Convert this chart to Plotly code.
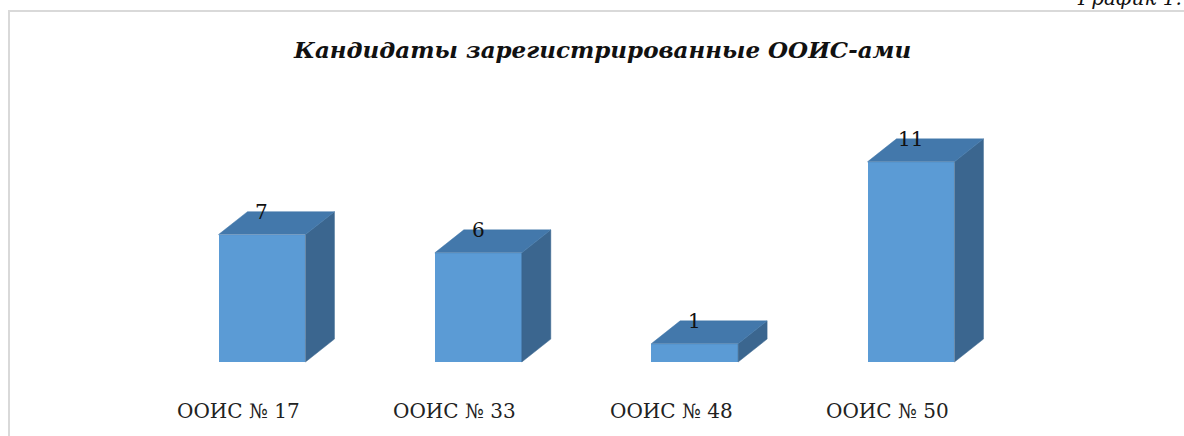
import plotly.graph_objects as go

# data
categories = ["ООИС № 17", "ООИС № 33", "ООИС № 48", "ООИС № 50"]
values = [7, 6, 1, 11]

title = "Кандидаты зарегистрированные ООИС-ами"
caption = "График 1."

# 3d look: bar width and depth offsets in axis units
half_w = 0.201
dx = 0.134
dy = 1.26

front_color = "#5B9BD5"
top_color = "#4378AB"
side_color = "#3B668F"
serif = "DejaVu Serif"

fig = go.Figure()
xs = list(range(len(values)))

for i, v in zip(xs, values):
    # right side face
    fig.add_trace(go.Scatter(
        x=[i + half_w, i + half_w + dx, i + half_w + dx, i + half_w, i + half_w],
        y=[0, dy, v + dy, v, 0],
        fill="toself", fillcolor=side_color, mode="lines",
        line=dict(color=side_color, width=0.5), hoverinfo="skip", showlegend=False))
    # top face
    fig.add_trace(go.Scatter(
        x=[i - half_w, i + half_w, i + half_w + dx, i - half_w + dx, i - half_w],
        y=[v, v, v + dy, v + dy, v],
        fill="toself", fillcolor=top_color, mode="lines",
        line=dict(color=top_color, width=0.5), hoverinfo="skip", showlegend=False))

# front faces
fig.add_trace(go.Bar(x=xs, y=values, width=2 * half_w, marker_color=front_color,
                     marker_line_width=0, showlegend=False, hoverinfo="skip"))

# value labels sit at the back edge of the top face
for i, v in zip(xs, values):
    fig.add_annotation(x=i, y=v + dy, text=str(v), showarrow=False,
                       xanchor="center", yanchor="middle",
                       font=dict(family=serif, size=20, color="#111111"))

# category labels
for i, c in zip(xs, categories):
    fig.add_annotation(x=i - 0.109, y=-2.69, text=c, showarrow=False,
                       xanchor="center", yanchor="middle",
                       font=dict(family=serif, size=20, color="#222222"))

fig.add_annotation(xref="paper", yref="paper", x=602 / 1184, y=1 - 50 / 436,
                   text=title, showarrow=False, xanchor="center", yanchor="middle",
                   font=dict(family=serif, size=23, color="#111111",
                             weight="bold", style="italic"))

# page caption, cut by the top edge as in the source
fig.add_annotation(xref="paper", yref="paper", x=1.0, y=1 + 2 / 436,
                   text=caption, showarrow=False, xanchor="right", yanchor="middle",
                   font=dict(family=serif, size=20, color="#111111", style="italic"))

# frame of the chart area
fig.add_shape(type="rect", xref="paper", yref="paper",
              x0=9 / 1184, x1=1.05, y0=-0.05, y1=1 - 11 / 436,
              line=dict(color="#D9D9D9", width=2), layer="below")

fig.update_layout(
    width=1184, height=436,
    margin=dict(l=0, r=0, t=0, b=0),
    plot_bgcolor="white", paper_bgcolor="white",
    bargap=0,
)
fig.update_xaxes(range=[-1.211, 4.262], visible=False, fixedrange=True)
fig.update_yaxes(range=[-4.066, 19.89], visible=False, fixedrange=True)

# drop the default page margin so the figure sits at the window corner
fig.write_html("out.html", config={"displayModeBar": False},
               post_script="document.body.style.margin='0';document.body.style.overflow='hidden';")
